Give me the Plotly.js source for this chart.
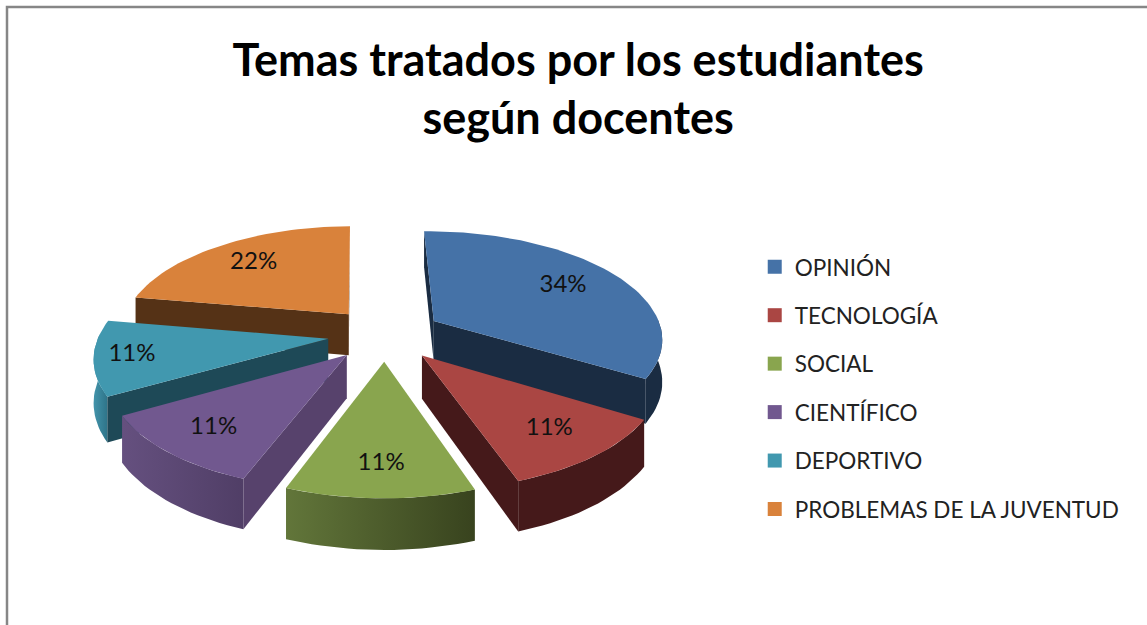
<!DOCTYPE html>
<html><head><meta charset="utf-8">
<script src="https://cdn.plot.ly/plotly-3.0.1.min.js"></script>
<style>html,body{margin:0;padding:0;background:#fff;overflow:hidden}#c{width:1147px;height:625px}</style>
</head><body><div id="c"></div>
<script>
const categories = ["OPINIÓN","TECNOLOGÍA","SOCIAL","CIENTÍFICO","DEPORTIVO","PROBLEMAS DE LA JUVENTUD"];
const values = [34,11,11,11,11,22];
const colors = ["#4572a7","#aa4643","#89a54e","#71588f","#4198af","#d9823b"];
const cutColors = ["#1a2c42","#45191a","#5d7336","#57426c","#1e4957","#553216"];
const wallLeft = ["#1a2c42","#45191a","#62763a","#65507f","#4394ab","#d9823b"];
const wallRight = ["#1a2c42","#45191a","#38431e","#503e66","#2e7489","#b86e30"];
const drawOrder = [5,0,4,3,1,2];
const labelRadius = [0.71,0.76,0.78,0.77,0.84,0.73];

// perspective view of the exploded disc
const view = {cx:385, cy:334, rx:229, ry:106.8, persp:0.15, depth:42, explode:0.25, rotate:-1*Math.PI/180};
function proj(X,Y,down){
  const s = 1/(1-view.persp*Y);
  return [view.cx+view.rx*X*s, view.cy+(view.ry*Y+(down?view.depth:0))*s];
}
const total = values.reduce((a,b)=>a+b,0);
let acc = 0;
const slices = values.map((v,i)=>{
  const a0 = acc/total*2*Math.PI+view.rotate; acc += v;
  const a1 = acc/total*2*Math.PI+view.rotate;
  return {i,a0,a1,mid:(a0+a1)/2};
});
function poly(pts,extra){
  return Object.assign({x:pts.map(p=>p[0]),y:pts.map(p=>p[1]),mode:"lines",fill:"toself",
    line:{width:0},showlegend:false,hoverinfo:"skip",type:"scatter"},extra);
}
const traces = [];
drawOrder.forEach(k=>{
  const s = slices[k];
  const ax = view.explode*Math.sin(s.mid), ay = -view.explode*Math.cos(s.mid);
  const pt = (r,a,down)=>proj(ax+r*Math.sin(a),ay-r*Math.cos(a),down);
  const arc = [], front = [], frontD = [];
  const n = Math.max(12,Math.round((s.a1-s.a0)*30));
  for(let j=0;j<=n;j++){
    const a = s.a0+(s.a1-s.a0)*j/n;
    arc.push(pt(1,a,false));
    if(Math.cos(a)<=0.05){ front.push(pt(1,a,false)); frontD.push(pt(1,a,true)); }
  }
  if(front.length>1){
    traces.push(poly(front.concat(frontD.slice().reverse()).concat([front[0]]),{
      fillcolor:wallLeft[k],
      fillgradient:{type:"horizontal",colorscale:[[0,wallLeft[k]],[1,wallRight[k]]]}
    }));
  }
  const face = a=>[pt(0,a,false),pt(1,a,false),pt(1,a,true),pt(0,a,true),pt(0,a,false)];
  // a cut face shows only when the ground below its edge lies outside the slice
  const apex = pt(0,s.a0,false), inner = pt(0.7,s.mid,false);
  [s.a0,s.a1].forEach(a=>{
    const c = pt(1,a,false);
    const ex = c[0]-apex[0], ey = c[1]-apex[1];
    const downSide = ex;                                  // cross(edge, down)
    const inSide = ex*(inner[1]-apex[1])-ey*(inner[0]-apex[0]); // cross(edge, interior)
    if(downSide*inSide<0) traces.push(poly(face(a),{fillcolor:cutColors[k]}));
  });
  traces.push(poly([pt(0,s.a0,false)].concat(arc).concat([pt(0,s.a0,false)]),{fillcolor:colors[k]}));
  const lp = pt(labelRadius[k],s.mid,false);
  traces.push({type:"scatter",x:[lp[0]],y:[lp[1]],mode:"text",text:[Math.round(values[k]/total*100)+"%"],
    textposition:"middle center",textfont:{family:"Lato, 'Open Sans', sans-serif",size:24,color:"#111"},
    showlegend:false,hoverinfo:"skip"});
});
categories.forEach((c,i)=>{
  traces.push({type:"scatter",x:[null],y:[null],mode:"markers",name:c,legendgroup:c,
    marker:{symbol:"square",size:14,color:colors[i]},hoverinfo:"skip"});
});
const layout = {
  width:1147,height:625,margin:{l:0,r:0,t:0,b:0},paper_bgcolor:"#fff",plot_bgcolor:"#fff",
  xaxis:{range:[0,1147],visible:false,fixedrange:true},
  yaxis:{range:[625,0],visible:false,fixedrange:true},
  title:{text:"Temas tratados por los estudiantes<br>según docentes",
    font:{family:"Lato, sans-serif",size:45,color:"#000",weight:700},
    x:0.504,xanchor:"center",y:0.879,yanchor:"middle"},
  showlegend:true,
  legend:{x:0.658,xanchor:"left",y:0.379,yanchor:"middle",tracegroupgap:16.2,itemwidth:30,
    font:{family:"Lato, sans-serif",size:22.5,color:"#222"},bgcolor:"rgba(0,0,0,0)"},
  shapes:[{type:"rect",xref:"x",yref:"y",x0:7,y0:7,x1:1300,y1:800,line:{color:"#868686",width:2.5},fillcolor:"rgba(0,0,0,0)",layer:"below"}]
};
Plotly.newPlot("c",traces,layout,{staticPlot:true,displayModeBar:false});
</script></body></html>
